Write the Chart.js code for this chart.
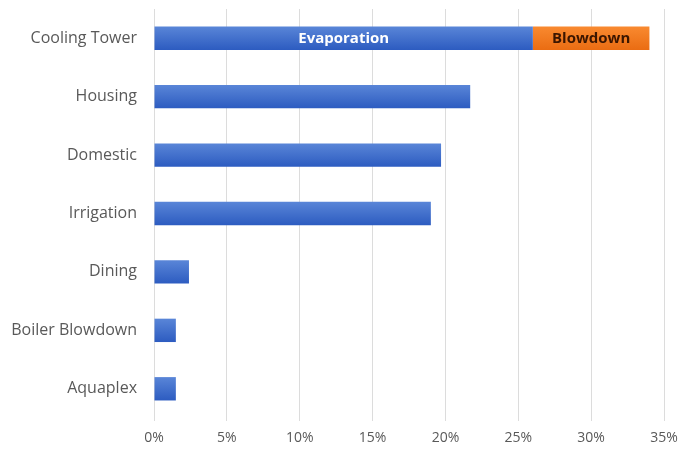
<!DOCTYPE html>
<html>
<head>
<meta charset="utf-8">
<script src="https://cdn.jsdelivr.net/npm/chart.js@4/dist/chart.umd.min.js"></script>
<style>
  html, body { margin: 0; padding: 0; background: #fff; }
  #wrap { width: 681px; height: 450px; }
</style>
</head>
<body>
<div id="wrap"><canvas id="waterChart"></canvas></div>
<script>
// Share of campus water use (%)
const categories = ["Cooling Tower", "Housing", "Domestic", "Irrigation", "Dining", "Boiler Blowdown", "Aquaplex"];
const evaporation = [26, 21.7, 19.7, 19.0, 2.4, 1.5, 1.5];
const blowdown = [8, 0, 0, 0, 0, 0, 0];
const xTicks = [0, 5, 10, 15, 20, 25, 30, 35];

// vertical gradient that follows each bar
function barGradient(top, bottom) {
  return function (ctx) {
    const chart = ctx.chart;
    const y = chart.scales && chart.scales.y;
    if (!chart.chartArea || !y || ctx.dataIndex === undefined) return bottom;
    const cy = y.getPixelForValue(ctx.dataIndex);
    const g = chart.ctx.createLinearGradient(0, cy - 12, 0, cy + 12);
    g.addColorStop(0, top);
    g.addColorStop(1, bottom);
    return g;
  };
}

// writes the series name inside the Cooling Tower segments
const segmentLabels = {
  id: "segmentLabels",
  afterDatasetsDraw(chart) {
    const ctx = chart.ctx;
    const colors = ["#ffffff", "#3b1600"];
    chart.data.datasets.forEach((ds, i) => {
      const bar = chart.getDatasetMeta(i).data[0];
      if (!bar || !ds.data[0]) return;
      const props = bar.getProps(["x", "y", "base"], true);
      ctx.save();
      ctx.font = "bold 15px 'Open Sans', sans-serif";
      ctx.fillStyle = colors[i];
      ctx.textAlign = "center";
      ctx.textBaseline = "middle";
      ctx.fillText(ds.label, (props.x + props.base) / 2, props.y + 1);
      ctx.restore();
    });
  },
};

const chart = new Chart(document.getElementById("waterChart"), {
  type: "bar",
  data: {
    labels: categories,
    datasets: [
      {
        label: "Evaporation",
        data: evaporation,
        backgroundColor: barGradient("#5a86d8", "#2c5bc0"),
        barPercentage: 0.4,
        categoryPercentage: 1,
      },
      {
        label: "Blowdown",
        data: blowdown,
        backgroundColor: barGradient("#f98a30", "#ea6c12"),
        barPercentage: 0.4,
        categoryPercentage: 1,
      },
    ],
  },
  options: {
    indexAxis: "y",
    responsive: true,
    maintainAspectRatio: false,
    animation: false,
    layout: { padding: { top: 9, right: 17, left: 0, bottom: 0 } },
    plugins: {
      legend: { display: false },
      tooltip: { enabled: false },
    },
    scales: {
      x: {
        stacked: true,
        min: 0,
        max: 35,
        afterBuildTicks: (axis) => {
          axis.ticks = xTicks.map((v) => ({ value: v }));
        },
        afterFit: (axis) => {
          axis.height = 32;
          axis.paddingLeft = 0;
          axis.paddingRight = 0;
        },
        border: { display: false },
        grid: { color: "#dcdcdc", lineWidth: 1, tickLength: 3 },
        ticks: {
          color: "#595959",
          padding: 9,
          font: { family: "'Open Sans', sans-serif", size: 14 },
          callback: (v) => v + "%",
        },
      },
      y: {
        stacked: true,
        afterFit: (axis) => {
          axis.width = 154;
          axis.paddingTop = 0;
          axis.paddingBottom = 0;
        },
        border: { display: false },
        grid: { display: false },
        ticks: {
          color: "#595959",
          padding: 9,
          font: { family: "'Open Sans', sans-serif", size: 16 },
        },
      },
    },
  },
  plugins: [segmentLabels],
});
</script>
</body>
</html>
